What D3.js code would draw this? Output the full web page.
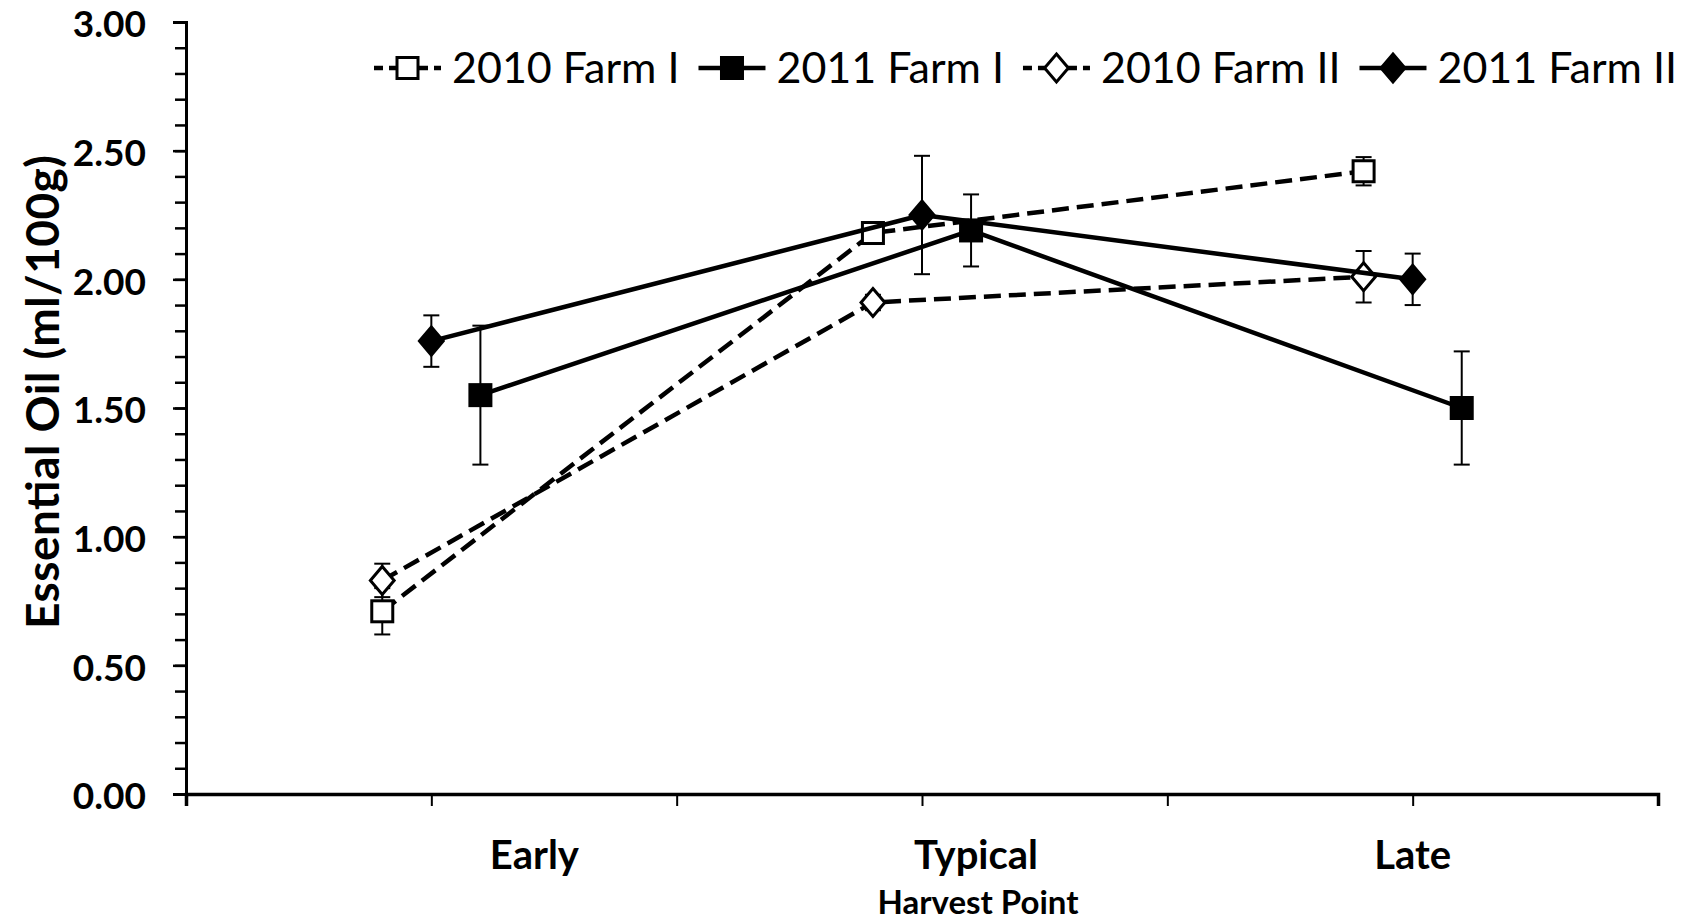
<!DOCTYPE html>
<html>
<head>
<meta charset="utf-8">
<script src="https://cdn.jsdelivr.net/npm/d3@7"></script>
<style>
  html, body { margin: 0; padding: 0; background: #fff; }
  svg { display: block; }
  text { font-family: Lato, "Open Sans", sans-serif; fill: #000; }
</style>
</head>
<body>
<svg id="chart" width="1699" height="921"></svg>
<script>
// ---- Data ----
const categories = ["Early", "Typical", "Late"];
const categoryLabelX = [1.42, 3.22, 5.0];
const seriesNames = ["2010 Farm I", "2011 Farm I", "2010 Farm II", "2011 Farm II"];

const x2010FarmI  = [0.8, 2.8, 4.8];
const y2010FarmI  = [0.71, 2.18, 2.42];
const e2010FarmI  = [0.09, 0.03, 0.055];

const x2011FarmI  = [1.2, 3.2, 5.2];
const y2011FarmI  = [1.55, 2.19, 1.50];
const e2011FarmI  = [0.27, 0.14, 0.22];

const x2010FarmII = [0.8, 2.8, 4.8];
const y2010FarmII = [0.83, 1.91, 2.01];
const e2010FarmII = [0.065, 0.03, 0.10];

const x2011FarmII = [1.0, 3.0, 5.0];
const y2011FarmII = [1.76, 2.25, 2.00];
const e2011FarmII = [0.10, 0.23, 0.10];

const yTickValues = [0, 0.5, 1.0, 1.5, 2.0, 2.5, 3.0];
const yMinorTicks = d3.range(0, 3.0001, 0.1);
const xTickValues = [0, 1, 2, 3, 4, 5, 6];

const series = [
  { name: seriesNames[0], x: x2010FarmI,  y: y2010FarmI,  e: e2010FarmI,  shape: "square",  filled: false, dashed: true },
  { name: seriesNames[1], x: x2011FarmI,  y: y2011FarmI,  e: e2011FarmI,  shape: "square",  filled: true,  dashed: false },
  { name: seriesNames[2], x: x2010FarmII, y: y2010FarmII, e: e2010FarmII, shape: "diamond", filled: false, dashed: true },
  { name: seriesNames[3], x: x2011FarmII, y: y2011FarmII, e: e2011FarmII, shape: "diamond", filled: true,  dashed: false }
];

// ---- Layout ----
const svg = d3.select("#chart");
const xScale = d3.scaleLinear().domain([0, 6]).range([186, 1658]);
const yScale = d3.scaleLinear().domain([0, 3]).range([794, 22]);

// Axes
const yAxisMinor = d3.axisLeft(yScale).tickValues(yMinorTicks).tickSize(11).tickFormat("");
svg.append("g").attr("transform", `translate(${xScale(0)},0)`).call(yAxisMinor)
  .call(g => g.select(".domain").remove())
  .call(g => g.selectAll("line").attr("stroke", "#000").attr("stroke-width", 2.5));

const yAxis = d3.axisLeft(yScale).tickValues(yTickValues).tickSize(13).tickPadding(27).tickFormat(d3.format(".2f"));
svg.append("g").attr("transform", `translate(${xScale(0)},0)`).call(yAxis)
  .call(g => g.select(".domain").attr("stroke", "#000").attr("stroke-width", 3))
  .call(g => g.selectAll("line").attr("stroke", "#000").attr("stroke-width", 2.5))
  .call(g => g.selectAll("text").attr("font-size", 37).attr("font-weight", 700).attr("font-family", "Lato").attr("dy", "0.4em"));

const xAxis = d3.axisBottom(xScale).tickValues(xTickValues).tickSize(12).tickFormat("");
svg.append("g").attr("transform", `translate(0,${yScale(0)})`).call(xAxis)
  .call(g => g.select(".domain").attr("stroke", "#000").attr("stroke-width", 3.5))
  .call(g => g.selectAll("line").attr("stroke", "#000").attr("stroke-width", 2));

// Category labels
svg.append("g").selectAll("text").data(categories).join("text")
  .attr("x", (d, i) => xScale(categoryLabelX[i]))
  .attr("y", 855)
  .attr("dy", "0.36em")
  .attr("text-anchor", "middle")
  .attr("font-size", 40).attr("font-weight", 700)
  .text(d => d);

svg.append("text")
  .attr("x", 978).attr("y", 902).attr("dy", "0.36em")
  .attr("text-anchor", "middle").attr("font-size", 33).attr("font-weight", 700)
  .text("Harvest Point");

svg.append("text")
  .attr("transform", "translate(42,392) rotate(-90)")
  .attr("dy", "0.36em")
  .attr("text-anchor", "middle").attr("font-size", 46).attr("font-weight", 700)
  .attr("textLength", 474).attr("lengthAdjust", "spacing")
  .text("Essential Oil (ml/100g)");

// Marker drawing
function drawMarker(g, shape, filled, cx, cy) {
  if (shape === "square") {
    const s = 21;
    g.append("rect").attr("x", cx - s / 2).attr("y", cy - s / 2).attr("width", s).attr("height", s)
      .attr("fill", filled ? "#000" : "#fff").attr("stroke", "#000").attr("stroke-width", 3);
  } else {
    const r = 14;
    g.append("path").attr("d", `M${cx},${cy - r}L${cx + r * 0.85},${cy}L${cx},${cy + r}L${cx - r * 0.85},${cy}Z`)
      .attr("fill", filled ? "#000" : "#fff").attr("stroke", "#000").attr("stroke-width", 3).attr("stroke-linejoin", "miter");
  }
}

const line = d3.line().x(d => xScale(d[0])).y(d => yScale(d[1]));
const capW = 8;

series.forEach(s => {
  const g = svg.append("g");
  const pts = s.x.map((xv, i) => [xv, s.y[i], s.e[i]]);
  g.append("path").datum(pts).attr("d", line)
    .attr("fill", "none").attr("stroke", "#000").attr("stroke-width", 4.5)
    .attr("stroke-dasharray", s.dashed ? "17,8" : null)
    .attr("stroke-linejoin", "round");
  // error bars
  pts.forEach(p => {
    const cx = xScale(p[0]);
    const y1 = yScale(p[1] + p[2]), y2 = yScale(p[1] - p[2]);
    g.append("line").attr("x1", cx).attr("x2", cx).attr("y1", y1).attr("y2", y2).attr("stroke", "#000").attr("stroke-width", 2);
    g.append("line").attr("x1", cx - capW).attr("x2", cx + capW).attr("y1", y1).attr("y2", y1).attr("stroke", "#000").attr("stroke-width", 2);
    g.append("line").attr("x1", cx - capW).attr("x2", cx + capW).attr("y1", y2).attr("y2", y2).attr("stroke", "#000").attr("stroke-width", 2);
  });
  pts.forEach(p => drawMarker(g, s.shape, s.filled, xScale(p[0]), yScale(p[1])));
});

// Legend
const legend = svg.append("g");
let lx = 374;
const ly = 68;
series.forEach(s => {
  const g = legend.append("g");
  g.append("line").attr("x1", lx).attr("x2", lx + 67).attr("y1", ly).attr("y2", ly)
    .attr("stroke", "#000").attr("stroke-width", 4.5).attr("stroke-dasharray", s.dashed ? "9,6" : null);
  drawMarker(g, s.shape, s.filled, lx + 33.5, ly);
  const t = g.append("text").attr("x", lx + 78).attr("y", ly).attr("dy", "0.36em")
    .attr("font-size", 43).text(s.name);
  lx = lx + 78 + t.node().getComputedTextLength() + 19;
});
</script>
</body>
</html>
